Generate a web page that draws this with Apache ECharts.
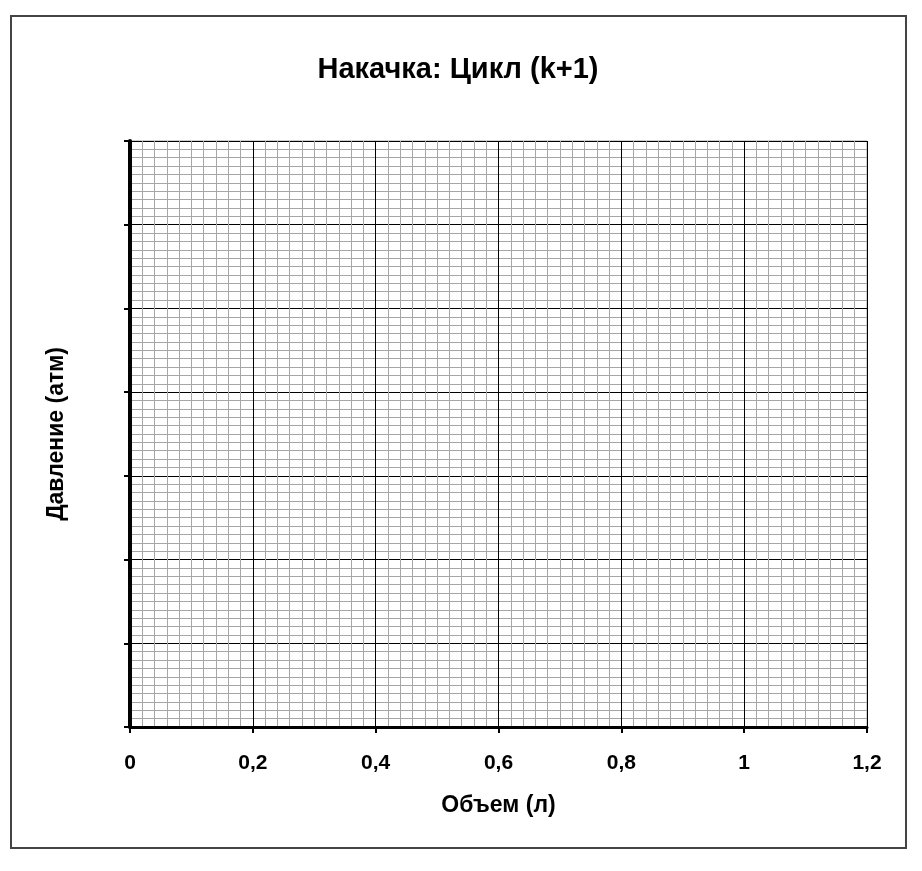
<!DOCTYPE html>
<html>
<head>
<meta charset="utf-8">
<script src="https://cdn.jsdelivr.net/npm/echarts@6/dist/echarts.min.js"></script>
<style>
html,body{margin:0;padding:0;background:#fff;}
#chart{width:922px;height:871px;}
</style>
</head>
<body>
<div id="chart"></div>
<script>
// ---- data ----
var chartTitle = 'Накачка: Цикл (k+1)';
var xAxisName = 'Объем (л)';
var yAxisName = 'Давление (атм)';
var xTickValues = [0, 0.2, 0.4, 0.6, 0.8, 1, 1.2];
var xTickLabels = ['0', '0,2', '0,4', '0,6', '0,8', '1', '1,2'];
var yTickValues = [0, 1, 2, 3, 4, 5, 6, 7];
var seriesData = []; // empty chart: no plotted points

var chart = echarts.init(document.getElementById('chart'));
var font = 'Liberation Sans, Arial, sans-serif';
chart.setOption({
  backgroundColor: '#fff',
  animation: false,
  title: {
    text: chartTitle,
    left: 453, top: 50, textAlign: 'center',
    textStyle: { fontFamily: font, fontWeight: 'bold', fontSize: 29, color: '#000' }
  },
  graphic: [{
    type: 'rect',
    shape: { x: 11, y: 16, width: 895, height: 832 },
    style: { fill: 'none', stroke: '#444', lineWidth: 2 },
    z: 0
  }],
  grid: { left: 130, right: 55, top: 141, bottom: 144, show: true, borderColor: '#a0a0a0', borderWidth: 1, backgroundColor: 'transparent' },
  xAxis: {
    type: 'value',
    min: xTickValues[0], max: xTickValues[xTickValues.length - 1], interval: 0.2,
    name: xAxisName, nameLocation: 'middle', nameGap: 67,
    nameTextStyle: { fontFamily: font, fontWeight: 'bold', fontSize: 23, color: '#000' },
    axisLine: { show: true, onZero: false, lineStyle: { color: '#000', width: 3 } },
    axisTick: { show: true, length: 6, lineStyle: { color: '#000', width: 2 } },
    axisLabel: {
      margin: 26, fontFamily: font, fontWeight: 'bold', fontSize: 21, color: '#000',
      formatter: function (v) {
        for (var i = 0; i < xTickValues.length; i++) if (Math.abs(v - xTickValues[i]) < 1e-6) return xTickLabels[i];
        return '';
      }
    },
    splitLine: { show: true, lineStyle: { color: '#000', width: 1 } },
    minorTick: { show: false, splitNumber: 10 },
    minorSplitLine: { show: true, lineStyle: { color: '#a6a6a6', width: 1 } }
  },
  yAxis: {
    type: 'value',
    min: yTickValues[0], max: yTickValues[yTickValues.length - 1], interval: 1,
    name: yAxisName, nameLocation: 'middle', nameGap: 62, nameRotate: 90,
    nameTextStyle: { fontFamily: font, fontWeight: 'bold', fontSize: 23, color: '#000' },
    axisLine: { show: true, onZero: false, lineStyle: { color: '#000', width: 4 } },
    axisTick: { show: true, length: 6, lineStyle: { color: '#000', width: 2 } },
    axisLabel: { show: false },
    splitLine: { show: true, lineStyle: { color: '#000', width: 1 } },
    minorTick: { show: false, splitNumber: 10 },
    minorSplitLine: { show: true, lineStyle: { color: '#a6a6a6', width: 1 } }
  },
  series: [{ type: 'line', data: seriesData, showSymbol: false }]
});
</script>
</body>
</html>
